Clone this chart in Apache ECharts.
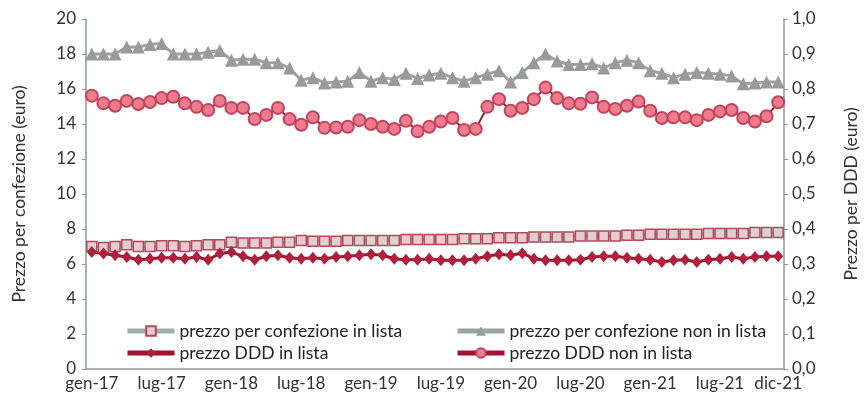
<!DOCTYPE html>
<html>
<meta charset="utf-8" />

<head>
  <script src="https://cdn.jsdelivr.net/npm/echarts@6.0.0/dist/echarts.min.js"></script>
  <style>
    body {
      margin: 0;
      background: #fff;
    }
    .chart {
      width: 868px;
      height: 402px;
    }
  </style>
</head>

<body>
  <div class="chart" id="chart-prezzi"></div>
  <script>
    // mesi gen-17 .. dic-21
    const mesi = ["gen", "feb", "mar", "apr", "mag", "giu", "lug", "ago", "set", "ott", "nov", "dic"];
    const anni = ["17", "18", "19", "20", "21"];

    // asse sinistro (euro per confezione)
    const confezioneInLista = [
      7.0, 6.95, 7.0, 7.1, 7.0, 7.0, 7.05, 7.05, 7.0, 7.05,
      7.1, 7.1, 7.25, 7.2, 7.2, 7.2, 7.25, 7.25, 7.35, 7.3,
      7.3, 7.3, 7.35, 7.35, 7.35, 7.35, 7.35, 7.4, 7.4, 7.4,
      7.4, 7.4, 7.45, 7.45, 7.45, 7.5, 7.5, 7.5, 7.55, 7.55,
      7.55, 7.55, 7.6, 7.6, 7.6, 7.6, 7.65, 7.65, 7.7, 7.7,
      7.7, 7.7, 7.7, 7.75, 7.75, 7.75, 7.75, 7.8, 7.8, 7.8
    ];
    const confezioneNonInLista = [
      18.0, 18.0, 18.0, 18.4, 18.4, 18.55, 18.6, 18.0, 18.0, 18.0,
      18.1, 18.2, 17.65, 17.7, 17.7, 17.5, 17.5, 17.2, 16.5, 16.65,
      16.35, 16.4, 16.45, 16.95, 16.45, 16.65, 16.55, 16.9, 16.6, 16.8,
      16.9, 16.65, 16.45, 16.65, 16.85, 17.05, 16.4, 16.95, 17.5, 18.0,
      17.6, 17.4, 17.4, 17.45, 17.2, 17.5, 17.65, 17.5, 17.05, 16.9,
      16.65, 16.85, 16.95, 16.9, 16.85, 16.75, 16.3, 16.35, 16.4, 16.4
    ];

    // asse destro (euro per DDD)
    const dddInLista = [
      0.334, 0.330, 0.325, 0.320, 0.312, 0.315, 0.318, 0.318, 0.315, 0.320,
      0.312, 0.330, 0.334, 0.322, 0.312, 0.322, 0.325, 0.318, 0.315, 0.318,
      0.315, 0.320, 0.322, 0.325, 0.328, 0.325, 0.315, 0.312, 0.312, 0.315,
      0.311, 0.311, 0.311, 0.315, 0.322, 0.328, 0.325, 0.331, 0.315, 0.311,
      0.311, 0.311, 0.312, 0.320, 0.322, 0.322, 0.318, 0.315, 0.312, 0.306,
      0.311, 0.312, 0.306, 0.312, 0.315, 0.320, 0.315, 0.320, 0.322, 0.322
    ];
    const dddNonInLista = [
      0.781, 0.759, 0.752, 0.766, 0.757, 0.763, 0.774, 0.778, 0.759, 0.749,
      0.740, 0.766, 0.746, 0.746, 0.714, 0.726, 0.746, 0.714, 0.698, 0.719,
      0.689, 0.690, 0.692, 0.711, 0.700, 0.692, 0.686, 0.709, 0.679, 0.692,
      0.707, 0.717, 0.683, 0.686, 0.749, 0.771, 0.738, 0.746, 0.771, 0.804,
      0.774, 0.759, 0.758, 0.776, 0.749, 0.743, 0.752, 0.764, 0.738, 0.717,
      0.719, 0.719, 0.711, 0.726, 0.736, 0.740, 0.717, 0.707, 0.722, 0.762
    ];

    const categorie = [];
    anni.forEach((a) => mesi.forEach((m) => categorie.push(m + "-" + a)));

    const font = "Lato";
    const axisColor = "#8c9a9a";
    const legendText = { fontFamily: font, fontSize: 17.5, color: "#222" };

    const myChart = echarts.init(document.getElementById("chart-prezzi"));
    const option = {
      animation: false,
      backgroundColor: "#fff",
      textStyle: { fontFamily: font },
      grid: { left: 86, right: 76, top: 19, bottom: 33 },
      legend: [
        {
          left: 125,
          top: 322,
          padding: 0,
          orient: "vertical",
          itemGap: 4,
          itemWidth: 47,
          itemHeight: 12,
          lineStyle: { width: 5 },
          textStyle: legendText,
          data: ["prezzo per confezione in lista", "prezzo DDD in lista"],
        },
        {
          left: 455,
          top: 322,
          padding: 0,
          orient: "vertical",
          itemGap: 4,
          itemWidth: 47,
          itemHeight: 12,
          lineStyle: { width: 5 },
          textStyle: legendText,
          data: ["prezzo per confezione non in lista", "prezzo DDD non in lista"],
        },
      ],
      xAxis: {
        type: "category",
        data: categorie,
        boundaryGap: true,
        axisLine: { lineStyle: { color: axisColor, width: 1.5 } },
        axisTick: {
          length: 4,
          interval: (i) => i % 7 === 0,
          lineStyle: { color: axisColor },
        },
        axisLabel: {
          interval: (i) => i % 6 === 0 || i === categorie.length - 1,
          fontSize: 17,
          color: "#333",
          margin: 6,
        },
      },
      yAxis: [
        {
          type: "value",
          min: 0,
          max: 20,
          interval: 2,
          name: "Prezzo per confezione (euro)",
          nameLocation: "middle",
          nameRotate: 90,
          nameGap: 58,
          nameTextStyle: { fontSize: 17.5, color: "#333" },
          splitLine: { show: false },
          axisLine: { show: true, lineStyle: { color: axisColor, width: 1.5 } },
          axisTick: { show: true, length: 4, lineStyle: { color: axisColor } },
          axisLabel: { fontSize: 17, color: "#333", margin: 10 },
        },
        {
          type: "value",
          min: 0,
          max: 1,
          interval: 0.1,
          position: "right",
          name: "Prezzo per DDD (euro)",
          nameLocation: "middle",
          nameRotate: 90,
          nameGap: 58,
          nameTextStyle: { fontSize: 17.5, color: "#333" },
          splitLine: { show: false },
          axisLine: { show: true, lineStyle: { color: axisColor, width: 1.5 } },
          axisTick: { show: true, length: 4, lineStyle: { color: axisColor } },
          axisLabel: {
            fontSize: 17,
            color: "#333",
            margin: 8,
            formatter: (v) => v.toFixed(1).replace(".", ","),
          },
        },
      ],
      series: [
        {
          name: "prezzo per confezione in lista",
          type: "line",
          yAxisIndex: 0,
          data: confezioneInLista,
          showAllSymbol: true,
          symbol: "rect",
          symbolSize: 10,
          lineStyle: { color: "#a4acac", width: 2 },
          itemStyle: { color: "#e4ccd1", borderColor: "#b04a5a", borderWidth: 1.5 },
        },
        {
          name: "prezzo per confezione non in lista",
          type: "line",
          yAxisIndex: 0,
          data: confezioneNonInLista,
          showAllSymbol: true,
          symbol: "triangle",
          symbolSize: 13,
          lineStyle: { color: "#9aa4a4", width: 3 },
          itemStyle: { color: "#9a9a9a", borderColor: "#9a9a9a", borderWidth: 0 },
        },
        {
          name: "prezzo DDD in lista",
          type: "line",
          yAxisIndex: 1,
          data: dddInLista,
          showAllSymbol: true,
          symbol: "diamond",
          symbolSize: [10, 12],
          lineStyle: { color: "#a3122f", width: 3 },
          itemStyle: { color: "#b01f3c", borderColor: "#b01f3c", borderWidth: 0 },
        },
        {
          name: "prezzo DDD non in lista",
          type: "line",
          yAxisIndex: 1,
          data: dddNonInLista,
          showAllSymbol: true,
          symbol: "circle",
          symbolSize: 12,
          lineStyle: { color: "#a3122f", width: 2 },
          itemStyle: { color: "#f07a8e", borderColor: "#c0455c", borderWidth: 2 },
        },
      ],
    };
    myChart.setOption(option);
  </script>
</body>
</html>
